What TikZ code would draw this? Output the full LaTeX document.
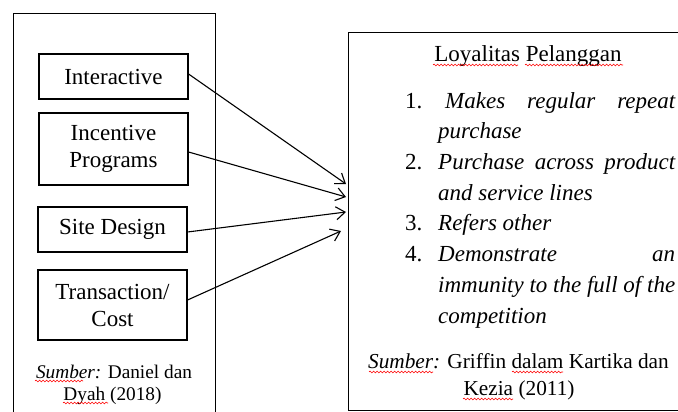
\documentclass[tikz,border=0pt]{standalone}
\usepackage{fontspec}
\setmainfont{Liberation Serif}
\usetikzlibrary{arrows.meta,decorations.pathmorphing}
\begin{document}
\begin{tikzpicture}[x=1pt,y=-1pt,
  frame/.style={draw, line width=1.1pt, inner sep=0pt},
  factor/.style={draw, line width=1.1pt, minimum width=149pt, align=center, font=\fontsize{23}{27}\selectfont, inner sep=0pt},
  link/.style={line width=1.1pt, -{Straight Barb[length=9pt,width=13pt,line width=1.1pt]}},
  txt/.style={font=\fontsize{23}{27}\selectfont, inner sep=0pt, anchor=base west},
  src/.style={inner sep=0pt, anchor=base},
  spell/.style={red, line width=0.6pt, decorate, decoration={snake, amplitude=0.9pt, segment length=3.5pt}}
]
\useasboundingbox (0,0) rectangle (678,412);
\clip (0,0) rectangle (678,412);

% outer frames
\node[frame, minimum width=202pt, minimum height=420pt, anchor=north west] (leftframe) at (13,13) {};
\node[frame, minimum width=340pt, minimum height=378pt, anchor=north west] (rightframe) at (348,32) {};

% factors
\node[factor, minimum height=45pt] (inter) at (113.5,76.5) {Interactive};
\node[factor, minimum height=72pt] (incent) at (113.5,149) {Incentive\\Programs};
\node[factor, minimum height=45pt] (site) at (112.5,229.5) {Site Design};
\node[factor, minimum height=70pt] (trans) at (112.5,305) {Transaction/\\Cost};

% arrow targets
\coordinate (t1) at (346,184);
\coordinate (t2) at (346,197);
\coordinate (t3) at (346,212);
\coordinate (t4) at (341,231);

\draw[link] ([yshift=2.5pt]inter.east) -- (t1);
\draw[link] ([yshift=-3pt]incent.east) -- (t2);
\draw[link] ([yshift=-2.5pt]site.east) -- (t3);
\draw[link] ([yshift=5pt]trans.east) -- (t4);

% right box text
\node[font=\fontsize{23}{27}\selectfont, inner sep=0pt, anchor=base] (title) at (528,62) {Loyalitas Pelanggan};
\node[txt] (n1) at (405,108) {1.};
\node[txt] (i1a) at (445,108) {\itshape\makebox[230pt][s]{Makes regular repeat}};
\node[txt] (i1b) at (438,138.7) {\itshape purchase};
\node[txt] (n2) at (405,169.4) {2.};
\node[txt] (i2a) at (438,169.4) {\itshape\makebox[237pt][s]{Purchase across product}};
\node[txt] (i2b) at (438,200) {\itshape and service lines};
\node[txt] (n3) at (405,230.8) {3.};
\node[txt] (i3a) at (438,230.8) {\itshape Refers other};
\node[txt] (n4) at (405,261.5) {4.};
\node[txt] (i4a) at (438,261.5) {\itshape\makebox[237pt][s]{Demonstrate an}};
\node[txt] (i4b) at (438,292) {\itshape\makebox[237pt][s]{immunity to the full of the}};
\node[txt] (i4c) at (438,323) {\itshape competition};

% sources
\node[src, font=\fontsize{21.3}{25}\selectfont] (srcr1) at (518.5,368) {\textit{Sumber:} Griffin dalam Kartika dan};
\node[src, font=\fontsize{21.3}{25}\selectfont] (srcr2) at (519,395) {Kezia (2011)};
\node[src, font=\fontsize{19.3}{23}\selectfont] (srcl1) at (114,378) {\textit{Sumber:} Daniel dan};
\node[src, font=\fontsize{19.3}{23}\selectfont] (srcl2) at (112.5,400) {Dyah (2018)};

% spelling marks
\draw[spell] (433,65) -- (518,65);
\draw[spell] (525,65) -- (623,65);
\draw[spell] (35,381) -- (83,381);
\draw[spell] (63,403) -- (108,403);
\draw[spell] (369,372) -- (433,372);
\draw[spell] (512,372) -- (563,372);
\draw[spell] (463,399) -- (513,399);
\end{tikzpicture}
\end{document}
